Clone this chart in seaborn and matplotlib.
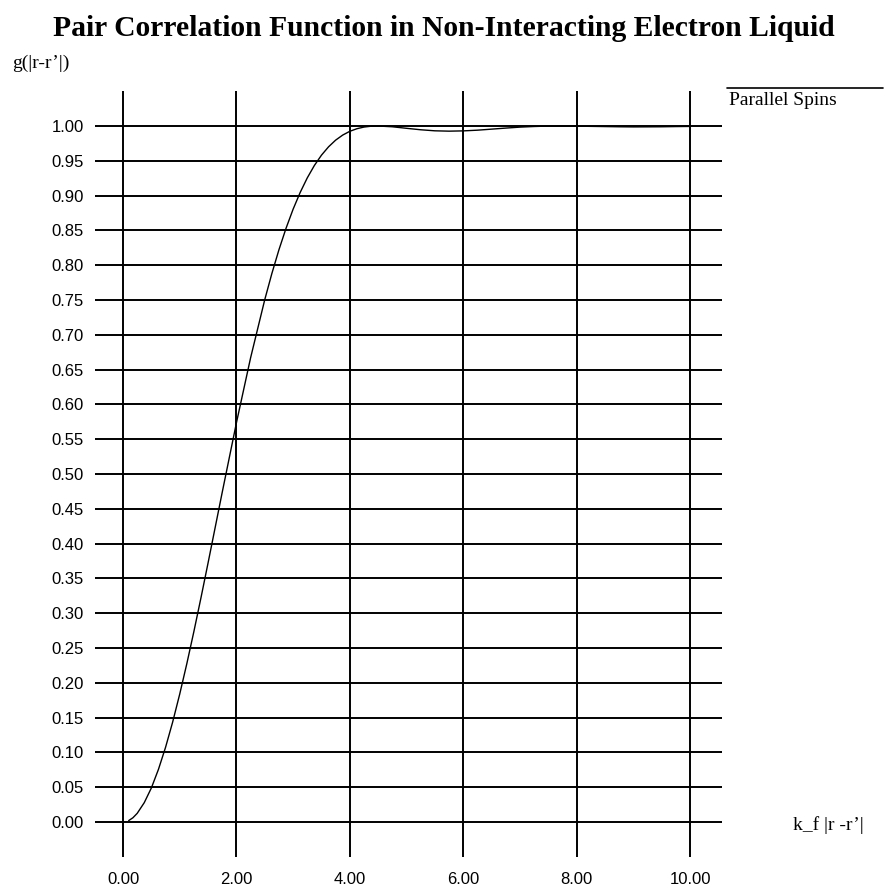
import matplotlib
matplotlib.use("Agg")
import matplotlib.pyplot as plt
from matplotlib.lines import Line2D
import seaborn as sns
import pandas as pd

# ---- data ----
title = "Pair Correlation Function in Non-Interacting Electron Liquid"
y_label = "g(|r-r\u2019|)"
x_label = "k_f |r -r\u2019|"
series_name = "Parallel Spins"

kf_r = [0.10, 0.175, 0.25, 0.375, 0.50, 0.625, 0.75, 0.875, 1.00, 1.125,
        1.25, 1.375, 1.50, 1.75, 2.00, 2.25, 2.50, 2.625, 2.75, 2.875,
        3.00, 3.125, 3.25, 3.375, 3.50, 3.625, 3.75, 3.875, 4.00, 4.125,
        4.25, 4.375, 4.50, 4.75, 5.00, 5.25, 5.50, 5.75, 6.00, 6.25, 6.50,
        6.75, 7.00, 7.25, 7.50, 7.75, 8.00, 8.25, 8.50, 8.75, 9.00, 9.25,
        9.50, 9.75, 10.00]
g_values = [0.002, 0.0061, 0.0124, 0.0278, 0.0489, 0.0756, 0.1072, 0.1434,
            0.1837, 0.2273, 0.2737, 0.3222, 0.3722, 0.4738, 0.5735, 0.6669,
            0.7505, 0.7880, 0.8222, 0.8530, 0.8805, 0.9046, 0.9255, 0.9433,
            0.9581, 0.9701, 0.9797, 0.9870, 0.9924, 0.9961, 0.9985, 0.9997,
            1.0000, 0.9989, 0.9967, 0.9946, 0.9931, 0.9926, 0.9930, 0.9940,
            0.9955, 0.9970, 0.9984, 0.9993, 0.9999, 1.0000, 0.9998, 0.9995,
            0.9992, 0.9989, 0.9987, 0.9988, 0.9989, 0.9992, 0.9994]

x_ticks = [0, 2, 4, 6, 8, 10]
x_tick_labels = ["0.00", "2.00", "4.00", "6.00", "8.00", "10.00"]
y_ticks = [i * 0.05 for i in range(21)]
y_tick_labels = [f"{v:.2f}" for v in y_ticks]

df = pd.DataFrame({"x": kf_r, "g": g_values})

sns.set_theme(style="white")
plt.rcParams["font.family"] = ["Liberation Sans", "DejaVu Sans"]

W, H = 885, 890
fig = plt.figure(figsize=(W / 100, H / 100), dpi=100)
fig.patch.set_facecolor("white")

# axes placement in pixels
ax_l, ax_r, ax_t, ax_b = 95, 722, 91, 857
ax = fig.add_axes([ax_l / W, 1 - ax_b / H, (ax_r - ax_l) / W, (ax_b - ax_t) / H])
ax.set_facecolor("white")

sns.lineplot(data=df, x="x", y="g", ax=ax, color="black", linewidth=1.0,
             estimator=None, sort=True, zorder=3)

ax.set_xlim(-0.494, 10.564)
ax.set_ylim(-0.0503, 1.0503)
ax.set_xticks(x_ticks)
ax.set_xticklabels(x_tick_labels)
ax.set_yticks(y_ticks)
ax.set_yticklabels(y_tick_labels)
ax.tick_params(axis="both", length=0, labelsize=12, colors="black")
ax.tick_params(axis="x", pad=11)
ax.tick_params(axis="y", pad=8)
ax.grid(True, color="black", linewidth=1.4)
ax.set_axisbelow(True)
for s in ax.spines.values():
    s.set_visible(False)
ax.set_xlabel("")
ax.set_ylabel("")

serif = ["Liberation Serif", "DejaVu Serif"]
fig.text(444 / W, 1 - 36 / H, title, ha="center", va="baseline",
         fontsize=21.3, fontweight="bold", family=serif, color="black")
fig.text(12 / W, 1 - 68 / H, y_label, ha="left", va="baseline",
         fontsize=14, family=serif, color="black")
fig.text(828 / W, 1 - 830 / H, x_label, ha="center", va="baseline",
         fontsize=14, family=serif, color="black")

# legend: line over the series label
fig.add_artist(Line2D([727 / W, 883 / W], [1 - 88 / H, 1 - 88 / H],
                      color="black", linewidth=1.2, transform=fig.transFigure))
fig.text(729 / W, 1 - 105 / H, series_name, ha="left", va="baseline",
         fontsize=14, family=serif, color="black")

fig.savefig("out.png", dpi=100, facecolor="white")
